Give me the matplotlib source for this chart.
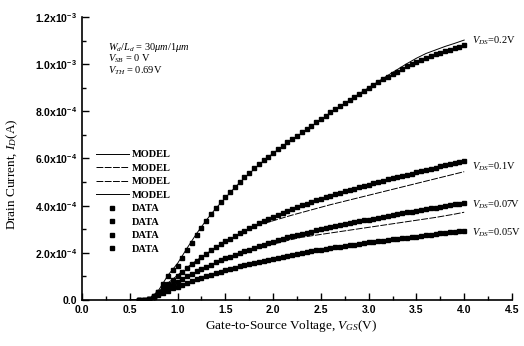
import numpy as np
import matplotlib.pyplot as plt
from matplotlib.ticker import MultipleLocator, FuncFormatter

# measured points, gate voltage step 0.05 V, currents in 1e-4 A
vgs_data = np.round(np.arange(0.60, 4.001, 0.05), 2)
data_02 = [0.00, 0.01, 0.03, 0.12, 0.35, 0.68, 1.00, 1.25, 1.45, 1.78,
           2.10, 2.43, 2.75, 3.06, 3.36, 3.65, 3.90, 4.14, 4.37, 4.59,
           4.80, 5.01, 5.21, 5.40, 5.58, 5.75, 5.92, 6.08, 6.24, 6.39,
           6.54, 6.68, 6.83, 6.97, 7.11, 7.25, 7.39, 7.53, 7.67, 7.81,
           7.95, 8.09, 8.22, 8.35, 8.48, 8.61, 8.74, 8.87, 8.99, 9.11,
           9.23, 9.35, 9.46, 9.57, 9.68, 9.79, 9.90, 10.00, 10.10, 10.19,
           10.27, 10.35, 10.42, 10.49, 10.56, 10.62, 10.68, 10.74, 10.80]
data_01 = [0.00, 0.01, 0.04, 0.15, 0.32, 0.50, 0.68, 0.86, 1.03, 1.20,
           1.36, 1.52, 1.67, 1.82, 1.96, 2.10, 2.23, 2.36, 2.48, 2.60,
           2.72, 2.83, 2.94, 3.05, 3.15, 3.25, 3.35, 3.44, 3.53, 3.62,
           3.70, 3.78, 3.86, 3.94, 4.01, 4.08, 4.15, 4.22, 4.29, 4.36,
           4.42, 4.48, 4.54, 4.60, 4.66, 4.72, 4.78, 4.84, 4.89, 4.95,
           5.00, 5.06, 5.11, 5.16, 5.21, 5.26, 5.31, 5.36, 5.41, 5.46,
           5.51, 5.56, 5.61, 5.66, 5.71, 5.76, 5.81, 5.86, 5.91]
data_007 = [0.00, 0.01, 0.05, 0.15, 0.27, 0.40, 0.53, 0.65, 0.77, 0.89,
            1.00, 1.11, 1.21, 1.31, 1.41, 1.50, 1.59, 1.68, 1.76, 1.84,
            1.92, 2.00, 2.07, 2.14, 2.21, 2.28, 2.35, 2.41, 2.47, 2.53,
            2.59, 2.65, 2.70, 2.75, 2.80, 2.85, 2.90, 2.95, 3.00, 3.05,
            3.09, 3.13, 3.17, 3.21, 3.25, 3.29, 3.33, 3.37, 3.41, 3.45,
            3.49, 3.53, 3.57, 3.60, 3.64, 3.67, 3.71, 3.74, 3.78, 3.81,
            3.85, 3.88, 3.91, 3.95, 3.98, 4.01, 4.05, 4.08, 4.13]
data_005 = [0.00, 0.01, 0.05, 0.13, 0.22, 0.31, 0.40, 0.49, 0.57, 0.65,
            0.73, 0.80, 0.87, 0.94, 1.01, 1.07, 1.13, 1.19, 1.25, 1.31,
            1.37, 1.42, 1.47, 1.52, 1.57, 1.62, 1.67, 1.71, 1.75, 1.79,
            1.83, 1.87, 1.91, 1.95, 1.99, 2.03, 2.06, 2.10, 2.13, 2.17,
            2.20, 2.23, 2.26, 2.29, 2.32, 2.35, 2.38, 2.41, 2.44, 2.47,
            2.49, 2.52, 2.54, 2.57, 2.59, 2.62, 2.64, 2.67, 2.69, 2.72,
            2.74, 2.77, 2.79, 2.82, 2.84, 2.87, 2.89, 2.92, 2.94]

# model curves, step 0.1 V
vgs_model = np.round(np.arange(0.5, 4.001, 0.1), 1)
model_02 = [0.00, 0.00, 0.02, 0.40, 1.05, 1.55, 2.20, 2.82, 3.38, 3.88,
            4.33, 4.77, 5.17, 5.54, 5.90, 6.22, 6.52, 6.80, 7.08, 7.36,
            7.64, 7.92, 8.20, 8.47, 8.74, 9.00, 9.26, 9.52, 9.77, 10.02,
            10.25, 10.45, 10.60, 10.75, 10.88, 11.02]
model_01 = [0.00, 0.00, 0.04, 0.35, 0.72, 1.05, 1.38, 1.68, 1.96, 2.22,
            2.46, 2.68, 2.90, 3.10, 3.24, 3.36, 3.48, 3.60, 3.71, 3.82,
            3.93, 4.04, 4.14, 4.24, 4.34, 4.44, 4.54, 4.64, 4.74, 4.84,
            4.94, 5.04, 5.14, 5.24, 5.34, 5.44]
model_007 = [0.00, 0.00, 0.05, 0.28, 0.54, 0.78, 1.00, 1.20, 1.39, 1.56,
             1.72, 1.87, 2.01, 2.14, 2.26, 2.37, 2.47, 2.57, 2.66, 2.72,
             2.78, 2.84, 2.90, 2.96, 3.02, 3.08, 3.14, 3.20, 3.26, 3.32,
             3.38, 3.44, 3.50, 3.57, 3.64, 3.72]
model_005 = [0.00, 0.00, 0.05, 0.22, 0.40, 0.57, 0.72, 0.86, 0.99, 1.11,
             1.22, 1.33, 1.43, 1.52, 1.61, 1.69, 1.77, 1.85, 1.92, 1.99,
             2.06, 2.12, 2.18, 2.24, 2.30, 2.36, 2.41, 2.46, 2.51, 2.56,
             2.61, 2.66, 2.71, 2.76, 2.81, 2.85]

vds_labels = ['0.2V', '0.1V', '0.07V', '0.05V']
label_y = [11.0, 5.63, 4.02, 2.84]   # where the V_DS tags sit, 1e-4 A

serif = 'Liberation Serif'
sans = 'Liberation Sans'

plt.rcParams['mathtext.fontset'] = 'custom'
plt.rcParams['mathtext.it'] = 'Liberation Serif:style=italic:weight=normal'
plt.rcParams['mathtext.rm'] = 'Liberation Serif:weight=normal'
plt.rcParams['mathtext.default'] = 'regular'
plt.rcParams['font.family'] = sans
plt.rcParams['font.weight'] = 'bold'

fig = plt.figure(figsize=(5.24, 3.46), dpi=100)
ax = fig.add_axes([0.1565, 0.133, 0.8205, 0.818])

models = [model_02, model_01, model_007, model_005]
styles = ['-', (0, (7, 1.5)), (0, (7, 1.5)), '-']
for m, ls in zip(models, styles):
    ax.plot(vgs_model, np.array(m) * 1e-4, color='black', lw=0.7, ls=ls, label='MODEL')
for d in [data_02, data_01, data_007, data_005]:
    ax.plot(vgs_data, np.array(d) * 1e-4, ls='none', marker='s', ms=2.8,
            color='black', label='DATA')

ax.set_xlim(0, 4.5)
ax.set_ylim(0, 1.2e-3)
ax.xaxis.set_major_locator(MultipleLocator(0.5))
ax.xaxis.set_minor_locator(MultipleLocator(0.25))
ax.yaxis.set_major_locator(MultipleLocator(2e-4))
ax.yaxis.set_minor_locator(MultipleLocator(1e-4))


def sci(v, pos):
    if abs(v) < 1e-12:
        return '0.0'
    e = int(np.floor(np.log10(abs(v)) + 1e-9))
    return r'%.1fx10$^{%d}$' % (v / 10**e, e)


ax.yaxis.set_major_formatter(FuncFormatter(sci))
ax.xaxis.set_major_formatter(FuncFormatter(lambda v, p: '%.1f' % v))
ax.tick_params(which='both', direction='in', width=1.0, labelsize=7.5)
ax.tick_params(which='major', length=5)
ax.tick_params(which='minor', length=3)
ax.spines['top'].set_visible(False)
ax.spines['right'].set_visible(False)
ax.spines['left'].set_linewidth(1.2)
ax.spines['bottom'].set_linewidth(1.2)

ax.set_xlabel(r'Gate-to-Source Voltage, $\mathit{V}_{\mathit{GS}}$(V)', family=serif,
              fontweight='normal', fontsize=9.5)
ax.set_ylabel(r'Drain Current, $\mathit{I}_{\mathit{D}}$(A)', family=serif,
              fontweight='normal', fontsize=9.5)
ax.xaxis.set_label_coords(0.486, -0.062)
ax.yaxis.set_label_coords(-0.145, 0.445)

ax.legend(loc='upper left', bbox_to_anchor=(0.015, 0.555), frameon=False,
          prop={'family': serif, 'weight': 'bold', 'size': 7.5},
          handlelength=3.2, labelspacing=0.4, handletextpad=0.3,
          borderpad=0.2)

notes = [r'$\mathit{W}_{\mathit{d}}/\mathit{L}_{\mathit{d}}$ = 30$\mathit{\mu m}$/1$\mathit{\mu m}$',
         r'$\mathit{V}_{\mathit{SB}}$ = 0 V',
         r'$\mathit{V}_{\mathit{TH}}$ = 0.69V']
for i, t in enumerate(notes):
    ax.text(0.06, 0.915 - 0.042 * i, t, transform=ax.transAxes, family=serif,
            fontweight='normal', fontsize=7.5, va='top')

for lbl, y in zip(vds_labels, label_y):
    ax.text(4.08, y * 1e-4, r'$\mathit{V}_{\mathit{DS}}$=' + lbl, family=serif,
            fontweight='normal', fontsize=7.5, va='center')

fig.savefig('out.png', dpi=100)
